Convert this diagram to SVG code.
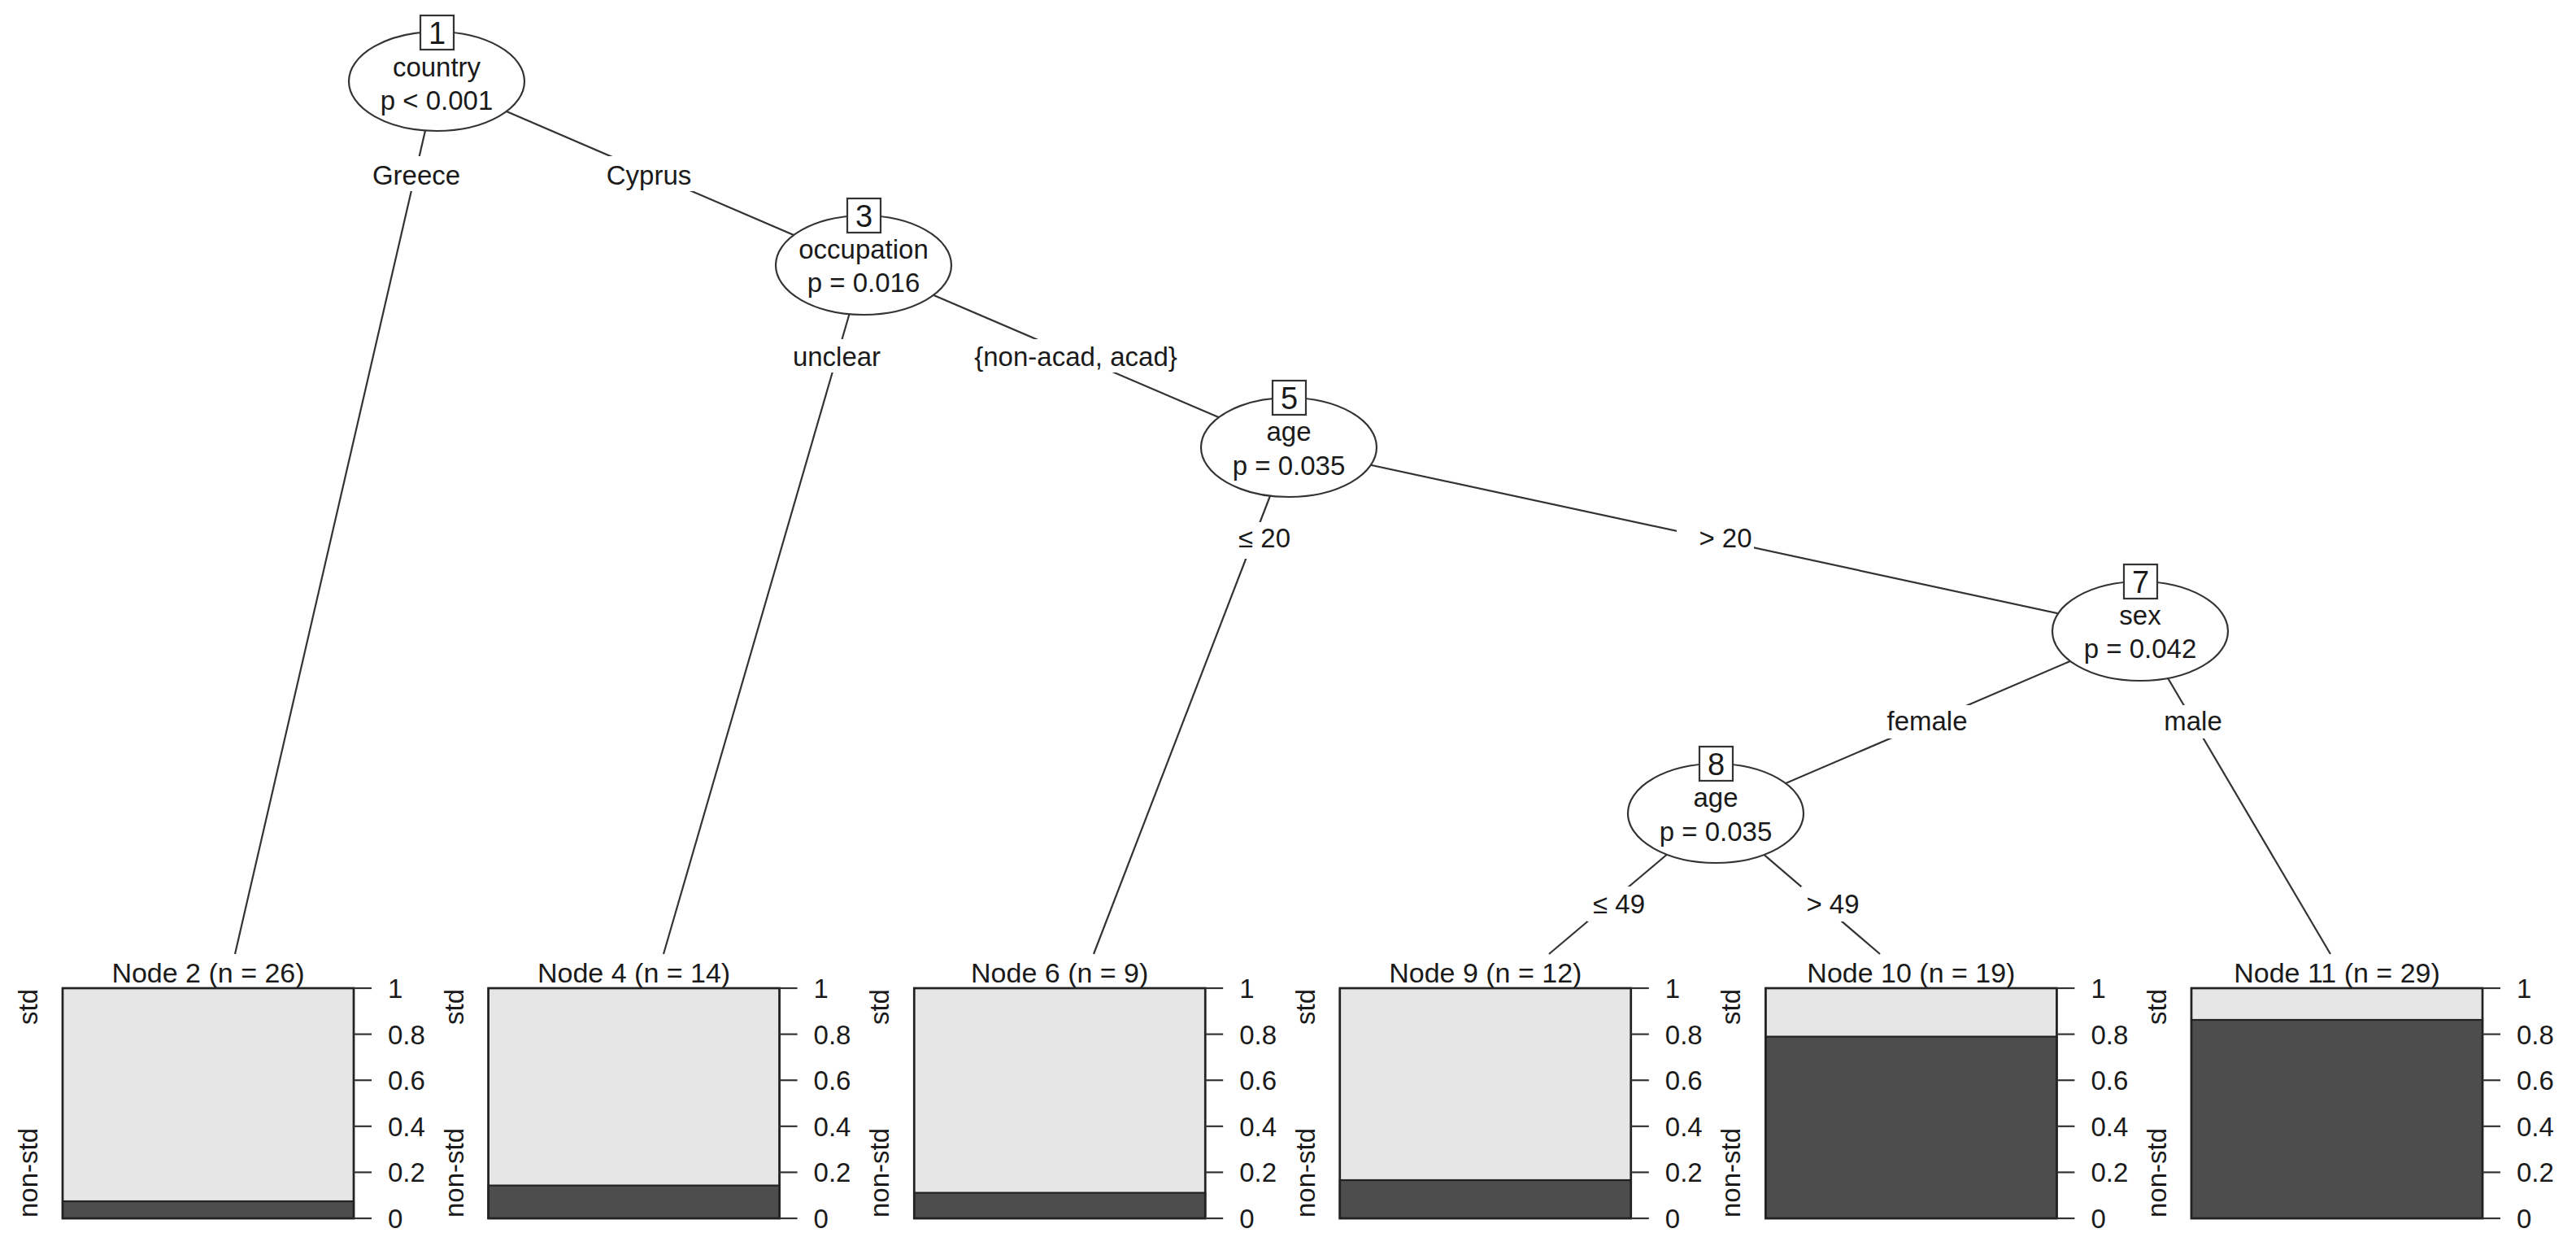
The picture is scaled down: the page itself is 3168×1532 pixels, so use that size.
<svg xmlns="http://www.w3.org/2000/svg" width="3168" height="1532" viewBox="0 0 3168 1532">
<style>
text{font-family:"Liberation Sans",Arial,sans-serif;fill:#1a1a1a;font-size:33px}
.c{text-anchor:middle}
.id{font-size:38px;text-anchor:middle}
.t{font-size:34px;text-anchor:middle}
.edge{stroke:#333;stroke-width:2.2;fill:none}
.lbg{fill:#fff;stroke:none}
.ell{fill:#fff;stroke:#333;stroke-width:2.2}
.idb{fill:#fff;stroke:#333;stroke-width:2.2}
.lt{fill:#e6e6e6;stroke:#333;stroke-width:2.2}
.dk{fill:#4d4d4d;stroke:#222;stroke-width:2.2}
.frame{fill:none;stroke:#222;stroke-width:2.6}
.tick{stroke:#333;stroke-width:2.2}
</style>
<defs>
<g id="axis">
<line class="tick" x1="0" y1="1215" x2="22" y2="1215"/>
<line class="tick" x1="0" y1="1271.6" x2="22" y2="1271.6"/>
<line class="tick" x1="0" y1="1328.2" x2="22" y2="1328.2"/>
<line class="tick" x1="0" y1="1384.8" x2="22" y2="1384.8"/>
<line class="tick" x1="0" y1="1441.4" x2="22" y2="1441.4"/>
<line class="tick" x1="0" y1="1498" x2="22" y2="1498"/>
<text x="42" y="1227">1</text>
<text x="42" y="1283.6">0.8</text>
<text x="42" y="1340.2">0.6</text>
<text x="42" y="1396.8">0.4</text>
<text x="42" y="1453.4">0.2</text>
<text x="42" y="1510">0</text>
</g>
</defs>
<rect width="3168" height="1532" fill="#fff"/>
<g id="connectors">
<line class="edge" x1="537" y1="100" x2="289" y2="1173"/>
<line class="edge" x1="537" y1="100" x2="1062" y2="326"/>
<line class="edge" x1="1062" y1="326" x2="816" y2="1173"/>
<line class="edge" x1="1062" y1="326" x2="1585" y2="550"/>
<line class="edge" x1="1585" y1="550" x2="1345" y2="1173"/>
<line class="edge" x1="1585" y1="550" x2="2632" y2="776"/>
<line class="edge" x1="2632" y1="776" x2="2110" y2="1000"/>
<line class="edge" x1="2632" y1="776" x2="2866" y2="1173"/>
<line class="edge" x1="2110" y1="1000" x2="1905" y2="1173"/>
<line class="edge" x1="2110" y1="1000" x2="2312" y2="1173"/>
<rect class="lbg" x="452" y="192" width="121" height="43"/>
<text class="c" x="512" y="227">Greece</text>
<rect class="lbg" x="744" y="192" width="109" height="43"/>
<text class="c" x="798" y="227">Cyprus</text>
<rect class="lbg" x="970" y="417" width="117" height="41"/>
<text class="c" x="1029" y="450">unclear</text>
<rect class="lbg" x="1190" y="417" width="266" height="41"/>
<text class="c" x="1323" y="450">{non-acad, acad}</text>
<rect class="lbg" x="1515" y="642" width="79" height="45"/>
<text class="c" x="1555" y="673">≤ 20</text>
<rect class="lbg" x="2062" y="642" width="95" height="45"/>
<text class="c" x="2122" y="673">&gt; 20</text>
<rect class="lbg" x="2316" y="867" width="108" height="41"/>
<text class="c" x="2370" y="898">female</text>
<rect class="lbg" x="2656" y="867" width="82" height="41"/>
<text class="c" x="2697" y="898">male</text>
<rect class="lbg" x="1952" y="1090" width="78" height="43"/>
<text class="c" x="1991" y="1123">≤ 49</text>
<rect class="lbg" x="2215" y="1090" width="77" height="43"/>
<text class="c" x="2254" y="1123">&gt; 49</text>
</g>
<g id="node1">
<ellipse class="ell" cx="537" cy="100" rx="108" ry="61"/>
<rect class="idb" x="517" y="19" width="41" height="42"/>
<text class="id" x="537.5" y="54">1</text>
<text class="c" x="537" y="94">country</text>
<text class="c" x="537" y="135">p &lt; 0.001</text>
</g>
<g id="node3">
<ellipse class="ell" cx="1062" cy="326" rx="108" ry="61"/>
<rect class="idb" x="1042" y="244" width="41" height="42"/>
<text class="id" x="1062.5" y="279">3</text>
<text class="c" x="1062" y="318">occupation</text>
<text class="c" x="1062" y="359">p = 0.016</text>
</g>
<g id="node5">
<ellipse class="ell" cx="1585" cy="550" rx="108" ry="61"/>
<rect class="idb" x="1565" y="468" width="41" height="42"/>
<text class="id" x="1585.5" y="503">5</text>
<text class="c" x="1585" y="542">age</text>
<text class="c" x="1585" y="584">p = 0.035</text>
</g>
<g id="node7">
<ellipse class="ell" cx="2632" cy="776" rx="108" ry="61"/>
<rect class="idb" x="2612" y="694" width="41" height="42"/>
<text class="id" x="2632.5" y="729">7</text>
<text class="c" x="2632" y="768">sex</text>
<text class="c" x="2632" y="809">p = 0.042</text>
</g>
<g id="node8">
<ellipse class="ell" cx="2110" cy="1000" rx="108" ry="61"/>
<rect class="idb" x="2090" y="918" width="41" height="42"/>
<text class="id" x="2110.5" y="953">8</text>
<text class="c" x="2110" y="992">age</text>
<text class="c" x="2110" y="1034">p = 0.035</text>
</g>
<g id="node2">
<text class="t" x="256" y="1208">Node 2 (n = 26)</text>
<rect class="lt" x="77" y="1215" width="358" height="283"/>
<rect class="dk" x="77" y="1477" width="358" height="21"/>
<rect class="frame" x="77" y="1215" width="358" height="283"/>
<use href="#axis" x="435"/>
<text x="46" y="1216" text-anchor="end" transform="rotate(-90 46 1216)">std</text>
<text x="46" y="1497" transform="rotate(-90 46 1497)">non-std</text>
</g>
<g id="node4">
<text class="t" x="779.6" y="1208">Node 4 (n = 14)</text>
<rect class="lt" x="600.6" y="1215" width="358" height="283"/>
<rect class="dk" x="600.6" y="1457.6" width="358" height="40.4"/>
<rect class="frame" x="600.6" y="1215" width="358" height="283"/>
<use href="#axis" x="958.6"/>
<text x="569.6" y="1216" text-anchor="end" transform="rotate(-90 569.6 1216)">std</text>
<text x="569.6" y="1497" transform="rotate(-90 569.6 1497)">non-std</text>
</g>
<g id="node6">
<text class="t" x="1303.2" y="1208">Node 6 (n = 9)</text>
<rect class="lt" x="1124.2" y="1215" width="358" height="283"/>
<rect class="dk" x="1124.2" y="1466.6" width="358" height="31.4"/>
<rect class="frame" x="1124.2" y="1215" width="358" height="283"/>
<use href="#axis" x="1482.2"/>
<text x="1093.2" y="1216" text-anchor="end" transform="rotate(-90 1093.2 1216)">std</text>
<text x="1093.2" y="1497" transform="rotate(-90 1093.2 1497)">non-std</text>
</g>
<g id="node9">
<text class="t" x="1826.8" y="1208">Node 9 (n = 12)</text>
<rect class="lt" x="1647.8" y="1215" width="358" height="283"/>
<rect class="dk" x="1647.8" y="1451" width="358" height="47"/>
<rect class="frame" x="1647.8" y="1215" width="358" height="283"/>
<use href="#axis" x="2005.8"/>
<text x="1616.8" y="1216" text-anchor="end" transform="rotate(-90 1616.8 1216)">std</text>
<text x="1616.8" y="1497" transform="rotate(-90 1616.8 1497)">non-std</text>
</g>
<g id="node10">
<text class="t" x="2350.4" y="1208">Node 10 (n = 19)</text>
<rect class="lt" x="2171.4" y="1215" width="358" height="283"/>
<rect class="dk" x="2171.4" y="1274.6" width="358" height="223.4"/>
<rect class="frame" x="2171.4" y="1215" width="358" height="283"/>
<use href="#axis" x="2529.4"/>
<text x="2140.4" y="1216" text-anchor="end" transform="rotate(-90 2140.4 1216)">std</text>
<text x="2140.4" y="1497" transform="rotate(-90 2140.4 1497)">non-std</text>
</g>
<g id="node11">
<text class="t" x="2874" y="1208">Node 11 (n = 29)</text>
<rect class="lt" x="2695" y="1215" width="358" height="283"/>
<rect class="dk" x="2695" y="1254" width="358" height="244"/>
<rect class="frame" x="2695" y="1215" width="358" height="283"/>
<use href="#axis" x="3053"/>
<text x="2664" y="1216" text-anchor="end" transform="rotate(-90 2664 1216)">std</text>
<text x="2664" y="1497" transform="rotate(-90 2664 1497)">non-std</text>
</g>
</svg>
